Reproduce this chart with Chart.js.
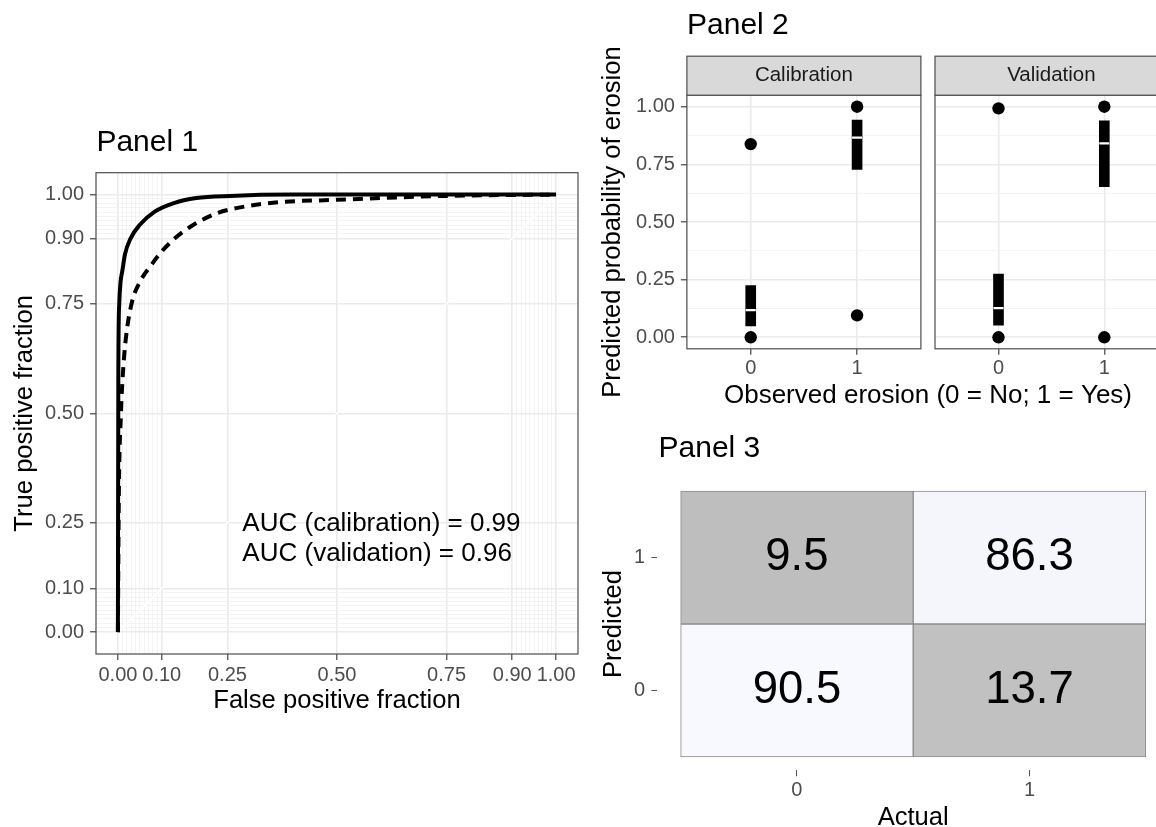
<!DOCTYPE html>
<html>
<head>
<meta charset="utf-8">
<script src="https://cdn.jsdelivr.net/npm/chart.js@4.4.0/dist/chart.umd.min.js"></script>
<style>
html, body { margin: 0; padding: 0; background: #fff; overflow: hidden; width: 1156px; height: 827px; }
.box { position: absolute; }
</style>
</head>
<body>
<div class="box" style="left:0;top:100px;"><canvas id="p1" width="590" height="627"></canvas></div>
<div class="box" style="left:590px;top:0;"><canvas id="p2a" width="580" height="420"></canvas></div>
<div class="box" style="left:925px;top:0;"><canvas id="p2b" width="250" height="420"></canvas></div>
<div class="box" style="left:590px;top:420px;"><canvas id="p3" width="600" height="420"></canvas></div>
<script>
// Panel 1 : ROC curves
const rocMajor = [0, 0.1, 0.25, 0.5, 0.75, 0.9, 1];
const rocMinor = [0.01, 0.02, 0.03, 0.04, 0.05, 0.06, 0.07, 0.08, 0.09,
                  0.91, 0.92, 0.93, 0.94, 0.95, 0.96, 0.97, 0.98, 0.99];
const calFpf = [0, 0.001, 0.003, 0.006, 0.01, 0.016, 0.029, 0.05, 0.084, 0.126, 0.179, 0.255, 0.4, 0.6, 1];
const calTpf = [0, 0.6, 0.75, 0.8, 0.825, 0.863, 0.9, 0.931, 0.961, 0.98, 0.992, 0.997, 1, 1, 1];
const valFpf = [0, 0.002, 0.007, 0.012, 0.018, 0.031, 0.05, 0.077, 0.1, 0.13, 0.171, 0.225, 0.27, 0.36, 0.5, 0.75, 1];
const valTpf = [0, 0.3, 0.5, 0.6, 0.67, 0.75, 0.8, 0.84, 0.87, 0.9, 0.93, 0.957, 0.969, 0.982, 0.988, 0.997, 1];
const aucLines = ['AUC (calibration) = 0.99', 'AUC (validation) = 0.96'];

// Panel 2 : predicted probability by observed erosion (box plots)
const obsLevels = [0, 1];
const calQ1 = [0.049, 0.728];
const calMed = [0.118, 0.866];
const calQ3 = [0.224, 0.942];
const calOutliers = [[0.0, 0.838], [1.0, 0.095]];
const valQ1 = [0.053, 0.653];
const valMed = [0.126, 0.841];
const valQ3 = [0.274, 0.939];
const valOutliers = [[0.0, 0.993], [1.0, 0.0]];
const probTicks = [0, 0.25, 0.5, 0.75, 1];
const probMinor = [0.125, 0.375, 0.625, 0.875];

// Panel 3 : confusion matrix (percent)
const actualLabels = ['0', '1'];
const predictedLabels = ['0', '1'];
const cmPredicted1 = [9.5, 86.3];   // predicted 1, actual 0 / 1
const cmPredicted0 = [90.5, 13.7];  // predicted 0, actual 0 / 1

const FONT = '"Liberation Sans", Arial, sans-serif';
Chart.defaults.font.family = FONT;
const f = (size) => ({ family: FONT, size: size, lineHeight: 1.2 });
const near = (list, v) => list.some(m => Math.abs(m - v) < 1e-9);

const decor = {
  id: 'decor',
  afterDatasetsDraw(chart, args, o) {
    const { ctx, chartArea: a, scales } = chart;
    ctx.save();
    if (o.border) {
      ctx.strokeStyle = '#4d4d4d';
      ctx.lineWidth = 1.2;
      ctx.strokeRect(a.left, a.top, a.right - a.left, a.bottom - a.top);
    }
    if (o.strip) {
      ctx.fillStyle = '#d9d9d9';
      ctx.fillRect(a.left, a.top - 39, a.right - a.left, 39);
      ctx.strokeStyle = '#4d4d4d';
      ctx.lineWidth = 1.2;
      ctx.strokeRect(a.left, a.top - 39, a.right - a.left, 39);
      ctx.fillStyle = '#1a1a1a';
      ctx.font = '20.5px ' + FONT;
      ctx.textAlign = 'center';
      ctx.textBaseline = 'middle';
      ctx.fillText(o.strip, (a.left + a.right) / 2, a.top - 19.5);
    }
    (o.texts || []).forEach(t => {
      let x = t.x, y = t.y;
      if (t.data) { x = scales.x.getPixelForValue(t.x); y = scales.y.getPixelForValue(t.y); }
      ctx.fillStyle = t.color || '#000';
      ctx.font = t.size + 'px ' + FONT;
      ctx.textAlign = t.align || 'left';
      ctx.textBaseline = 'middle';
      ctx.fillText(t.text, x, y);
    });
    ctx.restore();
  }
};

function gridOpts(major) {
  return {
    color: c => c.tick && near(major, c.tick.value) ? '#ebebeb' : '#f1f1f1',
    lineWidth: c => c.tick && near(major, c.tick.value) ? 1.6 : 0.8,
    tickColor: c => c.tick && near(major, c.tick.value) ? '#333333' : 'rgba(0,0,0,0)',
    tickLength: 6,
    tickWidth: 1.1
  };
}

const base = {
  responsive: false,
  devicePixelRatio: 1,
  animation: false,
  events: [],
  plugins: { legend: { display: false }, tooltip: { enabled: false } }
};

// ---------- Panel 1 ----------
const rocAll = rocMajor.concat(rocMinor);
new Chart(document.getElementById('p1'), {
  type: 'line',
  data: {
    datasets: [
      {
        label: 'Calibration',
        data: calFpf.map((x, i) => ({ x: x, y: calTpf[i] })),
        borderColor: '#000', borderWidth: 4, pointRadius: 0,
        cubicInterpolationMode: 'monotone'
      },
      {
        label: 'Validation',
        data: valFpf.map((x, i) => ({ x: x, y: valTpf[i] })),
        borderColor: '#000', borderWidth: 4, pointRadius: 0, borderDash: [10, 7],
        cubicInterpolationMode: 'monotone'
      },
      {
        label: 'Chance',
        data: [{ x: 0, y: 0 }, { x: 1, y: 1 }],
        borderColor: '#ffffff', borderWidth: 1.5, pointRadius: 0
      }
    ]
  },
  options: Object.assign({}, base, {
    layout: { padding: { left: 0, top: 72.7, right: 12, bottom: 7 } },
    scales: {
      x: {
        type: 'linear', min: -0.05, max: 1.05,
        afterBuildTicks: s => { s.ticks = rocAll.map(v => ({ value: v })); },
        afterFit: s => { s.height = 66; },
        ticks: { autoSkip: false, maxRotation: 0, minRotation: 0, padding: 3, color: '#4d4d4d', font: f(20),
                 callback: v => near(rocMajor, v) ? v.toFixed(2) : '' },
        grid: gridOpts(rocMajor),
        border: { display: false },
        title: { display: true, text: 'False positive fraction', color: '#000', font: f(25.6), padding: { bottom: 4, top: 0 } }
      },
      y: {
        type: 'linear', min: -0.05, max: 1.05,
        afterBuildTicks: s => { s.ticks = rocAll.map(v => ({ value: v })); },
        afterFit: s => { s.width = 96; },
        ticks: { autoSkip: false, padding: 6, color: '#4d4d4d', font: f(20),
                 callback: v => near(rocMajor, v) ? v.toFixed(2) : '' },
        grid: gridOpts(rocMajor),
        border: { display: false },
        title: { display: true, text: 'True positive fraction', color: '#000', font: f(25.6), padding: { top: 10, bottom: 0 } }
      }
    },
    plugins: Object.assign({}, base.plugins, {
      decor: {
        border: true,
        texts: [
          { text: 'Panel 1', x: 96.4, y: 43, size: 30 },
          { text: aucLines[0], x: 0.284, y: 0.248, data: true, size: 26 },
          { text: aucLines[1], x: 0.284, y: 0.178, data: true, size: 26 }
        ]
      }
    })
  }),
  plugins: [decor]
});

// ---------- Panel 2 ----------
function facet(id, q1, med, q3, outliers, opts) {
  const outPts = [];
  outliers.forEach((vals, i) => vals.forEach(v => outPts.push({ x: obsLevels[i], y: v })));
  return new Chart(document.getElementById(id), {
    type: 'bar',
    data: {
      datasets: [
        {
          type: 'scatter', label: 'Median',
          data: obsLevels.map((x, i) => ({ x: x, y: med[i] })),
          pointStyle: 'line', pointRadius: 5, borderColor: '#ffffff', borderWidth: 2.2
        },
        {
          type: 'scatter', label: 'Outliers',
          data: outPts,
          pointStyle: 'circle', pointRadius: 6.2, backgroundColor: '#000', borderColor: '#000', borderWidth: 0
        },
        {
          type: 'bar', label: 'IQR',
          data: obsLevels.map((x, i) => ({ x: x, y: [q1[i], q3[i]] })),
          backgroundColor: '#000', barThickness: 10, borderWidth: 0, grouped: false
        }
      ]
    },
    options: Object.assign({}, base, {
      layout: { padding: opts.padding },
      scales: {
        x: {
          type: 'linear', min: -0.6, max: 1.6, offset: false,
          afterBuildTicks: s => { s.ticks = obsLevels.map(v => ({ value: v })); },
          afterFit: s => { s.height = 50; },
          ticks: { autoSkip: false, maxRotation: 0, padding: 2, color: '#4d4d4d', font: f(20),
                   callback: v => String(v) },
          grid: Object.assign(gridOpts(obsLevels), { offset: false }),
          border: { display: false }
        },
        y: {
          type: 'linear', min: -0.05, max: 1.05,
          afterBuildTicks: s => { s.ticks = probTicks.concat(probMinor).map(v => ({ value: v })); },
          afterFit: s => { s.width = opts.yWidth; },
          ticks: { display: opts.showY, autoSkip: false, padding: 6, color: '#4d4d4d', font: f(20),
                   callback: v => near(probTicks, v) ? v.toFixed(2) : '' },
          grid: Object.assign(gridOpts(probTicks), { drawTicks: opts.showY }),
          border: { display: false },
          title: { display: opts.showY, text: 'Predicted probability of erosion', color: '#000', font: f(25.6), padding: { top: 8, bottom: 0 } }
        }
      },
      plugins: Object.assign({}, base.plugins, {
        decor: { border: true, strip: opts.strip, texts: opts.texts || [] }
      })
    }),
    plugins: [decor]
  });
}

facet('p2a', calQ1, calMed, calQ3, calOutliers, {
  padding: { left: 0, top: 95.2, right: 249.1, bottom: 21.2 },
  yWidth: 96.9, showY: true, strip: 'Calibration',
  texts: [
    { text: 'Panel 2', x: 97, y: 26, size: 30 },
    { text: 'Observed erosion (0 = No; 1 = Yes)', x: 338, y: 396, size: 26, align: 'center' }
  ]
});
facet('p2b', valQ1, valMed, valQ3, valOutliers, {
  padding: { left: 0, top: 95.2, right: 6, bottom: 21.2 },
  yWidth: 10, showY: false, strip: 'Validation'
});

// ---------- Panel 3 ----------
const cmRows = [cmPredicted0, cmPredicted1];
const cmAll = cmRows.flat();
const cmMin = Math.min(...cmAll), cmMax = Math.max(...cmAll);
const lowCol = [190, 190, 190], highCol = [248, 248, 255];
function tileColor(v) {
  const t = (v - cmMin) / (cmMax - cmMin);
  const c = lowCol.map((lo, k) => Math.round(lo + (highCol[k] - lo) * t));
  return 'rgb(' + c.join(',') + ')';
}
const tiles = [], tileCols = [], tileTexts = [];
predictedLabels.forEach((p, pi) => {
  actualLabels.forEach((a, ai) => {
    const v = cmRows[pi][ai];
    tiles.push({ x: ai, y: [pi - 0.5, pi + 0.5] });
    tileCols.push(tileColor(v));
    tileTexts.push({ text: v.toFixed(1), x: ai, y: pi, data: true, size: 45.5, align: 'center' });
  });
});
tileTexts.push({ text: 'Panel 3', x: 68.5, y: 29, size: 30 });

new Chart(document.getElementById('p3'), {
  type: 'bar',
  data: {
    datasets: [{
      label: 'Percent',
      data: tiles,
      backgroundColor: tileCols,
      borderColor: '#8c8c8c', borderWidth: 1, borderSkipped: false,
      barPercentage: 1, categoryPercentage: 1, grouped: false
    }]
  },
  options: Object.assign({}, base, {
    layout: { padding: { left: 0, top: 57.7, right: 21, bottom: 0 } },
    scales: {
      x: {
        type: 'linear', min: -0.6, max: 1.6, offset: false,
        afterBuildTicks: s => { s.ticks = [0, 1].map(v => ({ value: v })); },
        afterFit: s => { s.height = 69.7; },
        ticks: { autoSkip: false, maxRotation: 0, padding: 2, color: '#4d4d4d', font: f(20),
                 callback: v => actualLabels[v] },
        grid: { drawOnChartArea: false, offset: false, tickLength: 6, tickColor: '#555', tickWidth: 1.1 },
        border: { display: false },
        title: { display: true, text: 'Actual', color: '#000', font: f(25.6), padding: { bottom: 7, top: 0 } }
      },
      y: {
        type: 'linear', min: -0.6, max: 1.6,
        afterBuildTicks: s => { s.ticks = [0, 1].map(v => ({ value: v })); },
        afterFit: s => { s.width = 67.4; },
        ticks: { autoSkip: false, padding: 6.4, color: '#4d4d4d', font: f(20),
                 callback: v => predictedLabels[v] },
        grid: { drawOnChartArea: false, tickLength: 6, tickColor: '#555', tickWidth: 1.1 },
        border: { display: false },
        title: { display: true, text: 'Predicted', color: '#000', font: f(25.6), padding: { top: 9, bottom: 0 } }
      }
    },
    plugins: Object.assign({}, base.plugins, {
      decor: { border: false, texts: tileTexts }
    })
  }),
  plugins: [decor]
});
</script>
</body>
</html>
